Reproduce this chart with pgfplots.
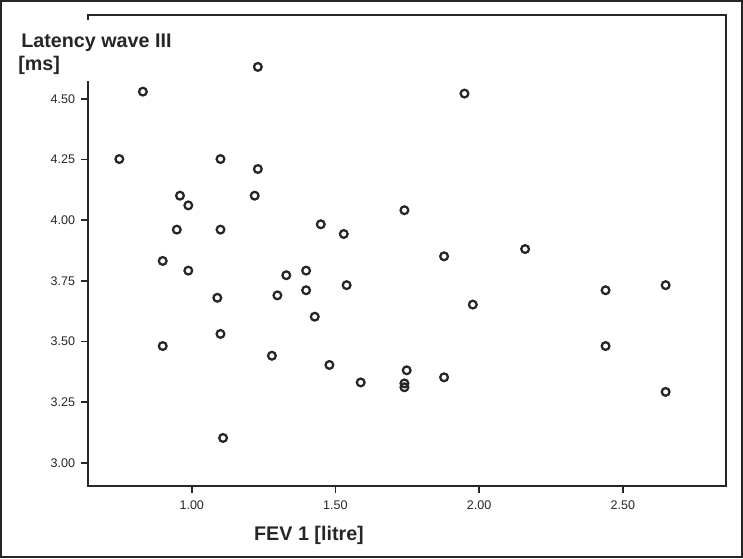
\documentclass[border=0pt]{standalone}
\usepackage{fontspec}
\setmainfont{Liberation Sans}
\usepackage{pgfplots}
\pgfplotsset{compat=1.18}
\definecolor{ink}{HTML}{262626}
\begin{document}
\begin{tikzpicture}
\begin{axis}[
  scale only axis, width=478.5pt, height=353.25pt,
  at={(0,0)}, anchor=south west,
  xmin=0.639, xmax=2.859, ymin=2.904, ymax=4.846,
  axis line style={draw=ink, line width=1.5pt},
  xtick={1,1.5,2,2.5}, ytick={3,3.25,3.5,3.75,4,4.25,4.5},
  tick pos=left, tick align=outside, major tick length=5pt,
  every tick/.style={draw=ink, line width=1.4pt},
  ticklabel style={font=\fontsize{9.4}{11}\selectfont, text=ink},
  xticklabel style={yshift=-2.6pt},
  yticklabel style={xshift=-1.2pt},
  /pgf/number format/fixed, /pgf/number format/fixed zerofill,
  /pgf/number format/precision=2, /pgf/number format/assume math mode=true,
  clip=false,
]
\addplot[only marks, mark=o, mark size=2.9pt, draw=ink, line width=1.7pt] table {
x y
1.230 4.632
0.830 4.530
0.748 4.252
1.100 4.252
1.230 4.211
0.959 4.101
0.988 4.061
1.219 4.101
0.948 3.961
1.100 3.961
0.899 3.832
0.988 3.792
1.949 4.522
1.740 4.041
1.449 3.983
1.529 3.943
1.878 3.851
2.160 3.881
1.089 3.680
1.329 3.773
1.298 3.690
1.100 3.531
0.899 3.481
1.279 3.441
1.109 3.102
1.398 3.792
1.398 3.711
1.539 3.732
1.428 3.602
1.978 3.652
1.479 3.403
1.588 3.331
1.748 3.381
1.740 3.327
1.740 3.311
1.878 3.352
2.440 3.711
2.649 3.732
2.440 3.481
2.649 3.292
};
\end{axis}
\begin{scope}[x=0.75pt,y=0.75pt]
  \fill[white] (-73,466) rectangle (94,405);
  \node[anchor=base west, inner sep=0, text=ink, font=\fontsize{14.8}{17}\selectfont\bfseries] at (-67,438) {Latency wave III};
  \node[anchor=base west, inner sep=0, text=ink, font=\fontsize{14.8}{17}\selectfont\bfseries] at (-70,415.3) {[ms]};
  \node[anchor=base, inner sep=0, text=ink, font=\fontsize{14.8}{17}\selectfont\bfseries] at (221,-54.7) {FEV 1 [litre]};
  \draw[ink, line width=1.5] (-87,-71.5) rectangle (653.5,485);
  \pgfresetboundingbox
  \useasboundingbox (-88,-73) rectangle (655,486);
\end{scope}
\end{tikzpicture}
\end{document}
